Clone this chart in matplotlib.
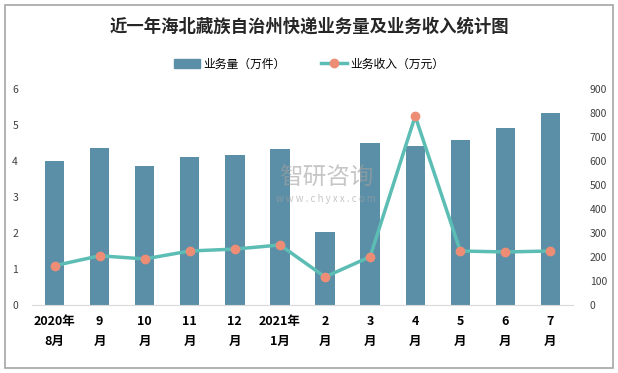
import matplotlib
matplotlib.use("Agg")
import matplotlib.pyplot as plt
from matplotlib.patches import Rectangle
from matplotlib.lines import Line2D

plt.rcParams['font.family'] = ['Noto Sans CJK SC', 'DejaVu Sans']

categories = ["2020年\n8月", "9\n月", "10\n月", "11\n月", "12\n月", "2021年\n1月",
              "2\n月", "3\n月", "4\n月", "5\n月", "6\n月", "7\n月"]
volume = [4.00, 4.35, 3.85, 4.10, 4.16, 4.32, 2.02, 4.49, 4.41, 4.57, 4.93, 5.32]
revenue = [164, 205, 192, 225, 233, 250, 117, 201, 787, 225, 221, 225]
left_ticks = [0, 1, 2, 3, 4, 5, 6]
right_ticks = [0, 100, 200, 300, 400, 500, 600, 700, 800, 900]

bar_color = "#5B8FA7"
line_color = "#5CBDB5"
marker_color = "#EE8D76"

fig = plt.figure(figsize=(6.18, 3.73), dpi=100)
fig.patches.append(Rectangle((5/618, 5/373), 608/618, 363/373, transform=fig.transFigure,
                             fill=False, edgecolor="#A6A6A6", linewidth=1.2))

ax = fig.add_axes([32/618, 1-305/373, 541/618, 216/373])
ax2 = ax.twinx()
x = list(range(len(categories)))
ax.bar(x, volume, width=0.43, color=bar_color, zorder=2)
ax2.plot(x, revenue, color=line_color, linewidth=2.5, marker="o", markersize=6,
         markerfacecolor=marker_color, markeredgecolor=marker_color, zorder=3)

ax.set_xlim(-0.5, 11.5)
ax.set_ylim(0, 6)
ax2.set_ylim(0, 900)
ax.set_yticks(left_ticks)
ax2.set_yticks(right_ticks)
ax.set_xticks(x)
ax.set_xticklabels(categories, fontsize=9, fontweight="bold", linespacing=1.75)
for a in (ax, ax2):
    for s in a.spines.values():
        s.set_visible(False)
    a.tick_params(length=0, labelsize=7.5, colors="#404040")
ax.spines["bottom"].set_visible(True)
ax.spines["bottom"].set_color("#D9D9D9")
ax.tick_params(axis="y", pad=10)
ax2.tick_params(axis="y", pad=12)
ax.tick_params(axis="x", pad=7, colors="#000000", labelsize=9)
ax.set_zorder(1)
ax2.set_zorder(2)
ax.patch.set_visible(False)

fig.text(0.5, 1-27/373, "近一年海北藏族自治州快递业务量及业务收入统计图", ha="center", va="center",
         fontsize=12.5, fontweight="bold", color="#262626")

# watermark
fig.text(326/618, 1-178/373, "智研咨询", ha="center", va="center", fontsize=17,
         color="#A0A0A0", alpha=0.6, zorder=5)
fig.text(326/618, 1-199/373, "w w w . c h y x x . c o m", ha="center", va="center",
         fontsize=7, color="#A0A0A0", alpha=0.6, zorder=5)

handles = [Rectangle((0, 0), 1, 1, color=bar_color),
           Line2D([0], [0], color=line_color, linewidth=2.5, marker="o", markersize=6,
                  markerfacecolor=marker_color, markeredgecolor=marker_color)]
fig.legend(handles, ["业务量（万件）", "业务收入（万元）"], loc="center",
           bbox_to_anchor=(0.5, 1-64/373), ncol=2, frameon=False, fontsize=8.5,
           handlelength=2.2, columnspacing=3, handletextpad=0.3)

fig.savefig("out.png", dpi=100)
